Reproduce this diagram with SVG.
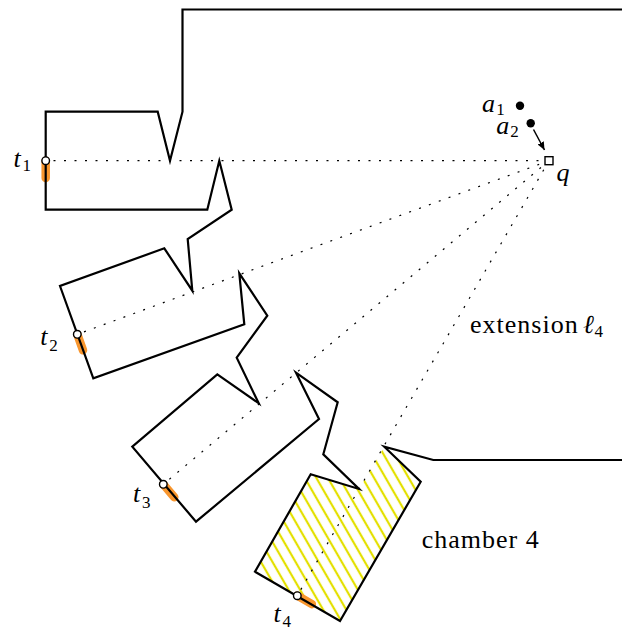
<svg xmlns="http://www.w3.org/2000/svg" width="622" height="630" viewBox="0 0 622 630">
<style>
.wall{fill:none;stroke:#000;stroke-width:2.2;stroke-linejoin:miter;stroke-miterlimit:10}
.dot{fill:none;stroke:#000;stroke-width:1.2;stroke-dasharray:2 8.5}
.seg{stroke:#f8962e;stroke-width:8.5;stroke-linecap:round}
.pt{fill:#fff;stroke:#000;stroke-width:1.4}
.lbl{font-family:"Liberation Serif","Times New Roman",serif;font-size:26px;fill:#000}
.it{font-style:italic}
.word{letter-spacing:1px}
.sub{font-size:17px;font-style:normal;letter-spacing:0}
</style>
<defs>
<pattern id="hatch" patternUnits="userSpaceOnUse" width="10" height="10" patternTransform="rotate(60)">
<line x1="0" y1="5" x2="10" y2="5" stroke="#e3e000" stroke-width="2.2"/>
</pattern>
<marker id="arr" markerUnits="userSpaceOnUse" markerWidth="10" markerHeight="8" refX="8" refY="3.5" orient="auto">
<path d="M0,0 L8,3.5 L0,7 z" fill="#000"/>
</marker>
</defs>
<g id="chamber4-fill">
<polygon points="310.7,474.3 359,489 384.3,446.7 420.7,481.7 340,621 255,571.7" fill="url(#hatch)"/>
</g>
<g id="connectors">
<line class="dot" x1="549" y1="160.7" x2="45.7" y2="160.7"/>
<line class="dot" x1="549" y1="160.7" x2="77.3" y2="334.3"/>
<line class="dot" x1="549" y1="160.7" x2="163.3" y2="484.3"/>
<line class="dot" x1="549" y1="160.7" x2="297.3" y2="595.7"/>
<line x1="533.5" y1="129.5" x2="544.5" y2="150" stroke="#000" stroke-width="1.5" marker-end="url(#arr)"/>
</g>
<g id="segments">
<line class="seg" x1="45.7" y1="160.7" x2="45.7" y2="178"/>
<line class="seg" x1="77.3" y1="334.3" x2="83" y2="350.3"/>
<line class="seg" x1="163.3" y1="484.3" x2="174.3" y2="497.2"/>
<line class="seg" x1="297.3" y1="595.7" x2="311.9" y2="604.2"/>
</g>
<g id="walls">
<polyline class="wall" points="622,9.5 182.5,9.5 182.5,111.7 170,160.7 157.7,111.7 45.7,111.7 45.7,209.7 207.3,209.7 219.3,160.7 231.7,209.7 187.7,239 192.3,290.7 164.3,248.3 60,286 93.3,378.3 244.3,324.3 239.3,273.3 267.3,315.7 236.7,357.7 258.7,403.3 217.3,374.3 132.3,446.7 196,521.7 319,419 296,372.7 337.7,402.3 323.3,454.3 359,489 310.7,474.3 255,571.7 340,621 420.7,481.7 384.3,446.7 433.3,460 622,460"/>
</g>
<g id="t1"><circle class="pt" cx="45.7" cy="160.7" r="3.8"/><text class="lbl it" x="13.5" y="167">t<tspan class="sub" x="22.5" y="171">1</tspan></text></g>
<g id="t2"><circle class="pt" cx="77.3" cy="334.3" r="3.8"/><text class="lbl it" x="40.2" y="345">t<tspan class="sub" x="49.2" y="351">2</tspan></text></g>
<g id="t3"><circle class="pt" cx="163.3" cy="484.3" r="3.8"/><text class="lbl it" x="132.9" y="501.5">t<tspan class="sub" x="141.9" y="508">3</tspan></text></g>
<g id="t4"><circle class="pt" cx="297.3" cy="595.7" r="3.8"/><text class="lbl it" x="273.5" y="621.5">t<tspan class="sub" x="282.5" y="626.5">4</tspan></text></g>
<g id="a1"><circle cx="520" cy="105.7" r="4.2" fill="#000"/><text class="lbl it" x="482" y="111.5">a<tspan class="sub" x="496.3" y="114.5">1</tspan></text></g>
<g id="a2"><circle cx="530.7" cy="123.3" r="4.2" fill="#000"/><text class="lbl it" x="496.3" y="133.5">a<tspan class="sub" x="510.3" y="137">2</tspan></text></g>
<g id="q"><rect class="pt" x="545" y="156.7" width="8" height="8" stroke-width="1.3"/><text class="lbl it" x="556.5" y="181">q</text></g>
<g id="extension"><text class="lbl word" x="470" y="333.3">extension</text><text class="lbl it" x="583" y="333.3">ℓ<tspan class="sub" x="594.5" y="337">4</tspan></text></g>
<g id="chamber4"><text class="lbl word" x="421.7" y="548.3">chamber 4</text></g>
</svg>
